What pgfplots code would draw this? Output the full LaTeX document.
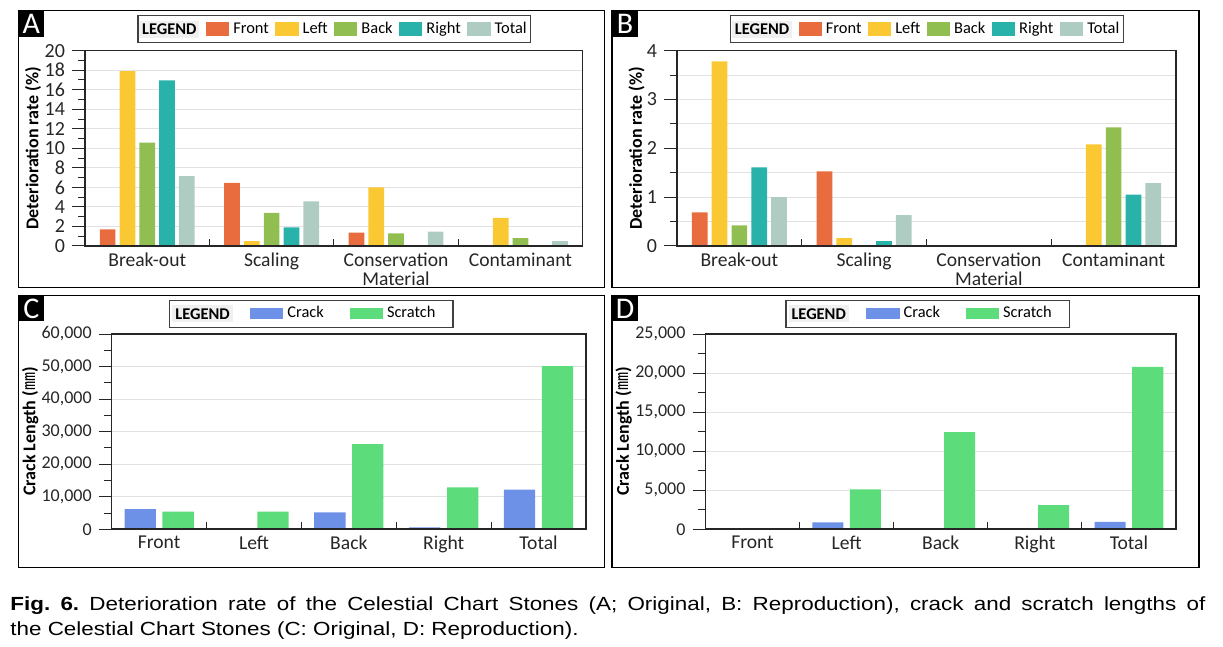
\documentclass[border=0pt]{standalone}
\usepackage{fontspec}
\setmainfont{Carlito}
\newfontfamily\capfont[FakeStretch=1.18]{Liberation Sans}
\newfontfamily\cjk{Noto Sans CJK KR}
\usepackage{pgfplots}
\pgfplotsset{compat=1.18}

\definecolor{cFront}{RGB}{233,108,62}
\definecolor{cLeft}{RGB}{250,200,50}
\definecolor{cBack}{RGB}{145,190,80}
\definecolor{cRight}{RGB}{40,178,170}
\definecolor{cTotal}{RGB}{175,204,194}
\definecolor{cCrack}{RGB}{110,145,232}
\definecolor{cScratch}{RGB}{92,220,122}
\definecolor{gridc}{RGB}{226,226,226}

\pgfplotsset{
  legimg/.style={legend image code/.code={\fill[#1] (0pt,-3.25pt) rectangle (11pt,3.25pt);}},
  legimgC/.style={legend image code/.code={\fill[#1] (0pt,-2.5pt) rectangle (16pt,2.5pt);}},
  panel/.style={
    scale only axis, anchor=north west, height=97.65pt,
    axis line style={draw=black!85, line width=0.6pt},
    ymin=0,
    ymajorgrids, grid style={draw=gridc, line width=0.5pt},
    ytick align=outside, ytick pos=left,
    xtick align=inside, xtick pos=bottom,
    major tick length=6.5pt, minor tick length=3.6pt,
    tick style={draw=black!85, line width=0.5pt},
    major x tick style={draw=none},
    minor y tick num=1,
    tick label style={text=black!85},
    yticklabel style={font=\fontsize{10}{10}\selectfont},
    xticklabel style={align=center, font=\fontsize{9.8}{9.3}\selectfont},
    /pgf/number format/assume math mode=true,
    /pgf/number format/1000 sep={,},
    ylabel style={font=\bfseries\fontsize{9}{10}\selectfont, anchor=center},
    legend columns=-1,
    legend style={draw=black!75, line width=0.6pt, fill=white, anchor=south,
      font=\fontsize{8.2}{9}\selectfont, inner xsep=0pt, inner ysep=1.6pt,
      nodes={inner ysep=1pt},
      /tikz/every even column/.append style={column sep=1.3pt}},
  },
  panelC/.style={panel,
    yticklabel style={font=\fontsize{9}{9}\selectfont},
    xmin=-0.5, xmax=4.5, xtick={0,1,2,3,4},
    xticklabels={Front,Left,Back,Right,Total},
    minor xtick={0.5,1.5,2.5,3.5},
    scaled y ticks=false,
    ylabel={Crack Length ({\cjk\mdseries ㎜})},
    legend style={inner ysep=1.6pt, /tikz/every even column/.append style={column sep=11pt}}},
}

\newcommand{\legendword}[2]{{\hspace*{#1}\setlength{\fboxsep}{1.5pt}\colorbox{gray!12}{\bfseries LEGEND}\hspace*{#2}}}

\begin{document}
\frenchspacing
\begin{tikzpicture}
\path[use as bounding box] (0,0) rectangle (611.5pt,-323.5pt);

% ---------- frames ----------
\draw[line width=0.75pt] (9.15pt,-5.35pt) rectangle (302.15pt,-143.65pt);
\draw[line width=0.75pt] (306pt,-5.35pt) rectangle (599.5pt,-143.65pt);
\draw[line width=0.75pt] (9.15pt,-147.75pt) rectangle (302.15pt,-283.75pt);
\draw[line width=0.75pt] (306pt,-147.75pt) rectangle (599.5pt,-283.75pt);
\foreach \x/\y/\l in {9.15/-5.35/A, 306/-5.35/B, 9.15/-147.75/C, 306/-147.75/D}{
  \fill[black] (\x pt,\y pt) rectangle ++(13pt,-13pt);
  \node[white, inner sep=0, font=\fontsize{15}{15}\selectfont] at (\x pt+6.5pt,\y pt-6.7pt) {\l};
}

% ---------- A ----------
\begin{axis}[panel, at={(42.5pt,-25.35pt)}, width=248.85pt,
  xmin=-0.5, xmax=3.5, xtick={0,1,2,3},
  xticklabels={Break-out,Scaling,Conservation\\Material,Contaminant},
  minor xtick={0.5,1.5,2.5},
  ymax=20, ytick={0,2,...,20},
  ylabel={Deterioration rate (\%)},
  ylabel style={at={(axis description cs:-0.1045,0.5)}},
  legend style={at={(axis description cs:0.501,1.037)}}]
\addplot[ybar, bar width=0.126, bar shift=-0.318, fill=cFront, draw=none, forget plot] coordinates {(0,1.7) (1,6.47) (2,1.36) (3,0)};
\addplot[ybar, bar width=0.126, bar shift=-0.159, fill=cLeft, draw=none, forget plot] coordinates {(0,17.9) (1,0.5) (2,6.0) (3,2.88)};
\addplot[ybar, bar width=0.126, bar shift=0, fill=cBack, draw=none, forget plot] coordinates {(0,10.58) (1,3.39) (2,1.29) (3,0.81)};
\addplot[ybar, bar width=0.126, bar shift=0.159, fill=cRight, draw=none, forget plot] coordinates {(0,16.95) (1,1.9) (2,0) (3,0)};
\addplot[ybar, bar width=0.126, bar shift=0.318, fill=cTotal, draw=none, forget plot] coordinates {(0,7.15) (1,4.58) (2,1.46) (3,0.5)};
\addlegendimage{empty legend}\addlegendentry{\legendword{-1.4pt}{0pt}}
\addlegendimage{legimg=cFront}\addlegendentry{Front}
\addlegendimage{legimg=cLeft}\addlegendentry{Left}
\addlegendimage{legimg=cBack}\addlegendentry{Back}
\addlegendimage{legimg=cRight}\addlegendentry{Right}
\addlegendimage{legimg=cTotal}\addlegendentry{Total}
\draw[black!85, line width=1pt] (rel axis cs:0,0) -- (rel axis cs:1,0);
\end{axis}

% ---------- B ----------
\begin{axis}[panel, at={(338.5pt,-25.35pt)}, width=249.5pt,
  xmin=-0.5, xmax=3.5, xtick={0,1,2,3},
  xticklabels={Break-out,Scaling,Conservation\\Material,Contaminant},
  minor xtick={0.5,1.5,2.5},
  ymax=4, ytick={0,1,2,3,4}, yminorgrids, minor grid style={draw=gridc, line width=0.5pt},
  ylabel={Deterioration rate (\%)},
  ylabel style={at={(axis description cs:-0.081,0.5)}},
  legend style={at={(axis description cs:0.501,1.037)}}]
\addplot[ybar, bar width=0.126, bar shift=-0.318, fill=cFront, draw=none, forget plot] coordinates {(0,0.69) (1,1.53) (2,0) (3,0)};
\addplot[ybar, bar width=0.126, bar shift=-0.159, fill=cLeft, draw=none, forget plot] coordinates {(0,3.78) (1,0.16) (2,0) (3,2.08)};
\addplot[ybar, bar width=0.126, bar shift=0, fill=cBack, draw=none, forget plot] coordinates {(0,0.42) (1,0) (2,0) (3,2.43)};
\addplot[ybar, bar width=0.126, bar shift=0.159, fill=cRight, draw=none, forget plot] coordinates {(0,1.61) (1,0.10) (2,0) (3,1.05)};
\addplot[ybar, bar width=0.126, bar shift=0.318, fill=cTotal, draw=none, forget plot] coordinates {(0,1.0) (1,0.63) (2,0) (3,1.29)};
\addlegendimage{empty legend}\addlegendentry{\legendword{-1.4pt}{0pt}}
\addlegendimage{legimg=cFront}\addlegendentry{Front}
\addlegendimage{legimg=cLeft}\addlegendentry{Left}
\addlegendimage{legimg=cBack}\addlegendentry{Back}
\addlegendimage{legimg=cRight}\addlegendentry{Right}
\addlegendimage{legimg=cTotal}\addlegendentry{Total}
\draw[black!85, line width=1pt] (rel axis cs:0,0) -- (rel axis cs:1,0);
\end{axis}

% ---------- C ----------
\begin{axis}[panelC, at={(55.85pt,-167pt)}, width=237.15pt,
  ymax=60000, ytick={0,10000,...,60000},
  ylabel style={at={(axis description cs:-0.172,0.5)}},
  legend style={at={(axis description cs:0.421,1.031)}}]
\addplot[ybar, bar width=0.33, bar shift=-0.2, fill=cCrack, draw=none, forget plot] coordinates {(0,6200) (1,0) (2,5200) (3,600) (4,12200)};
\addplot[ybar, bar width=0.33, bar shift=0.2, fill=cScratch, draw=none, forget plot] coordinates {(0,5400) (1,5400) (2,26200) (3,12900) (4,50100)};
\addlegendimage{empty legend}\addlegendentry{\legendword{-0.7pt}{-4.2pt}}
\addlegendimage{legimgC=cCrack}\addlegendentry{Crack}
\addlegendimage{legimgC=cScratch}\addlegendentry{Scratch\hspace*{6.8pt}}
\draw[black!85, line width=1pt] (rel axis cs:0,0) -- (rel axis cs:1,0);
\end{axis}

% ---------- D ----------
\begin{axis}[panelC, at={(352.75pt,-167pt)}, width=235.25pt,
  ymax=25000, ytick={0,5000,...,25000},
  ylabel style={at={(axis description cs:-0.174,0.5)}},
  legend style={at={(axis description cs:0.472,1.031)}}]
\addplot[ybar, bar width=0.33, bar shift=-0.2, fill=cCrack, draw=none, forget plot] coordinates {(0,0) (1,900) (2,0) (3,0) (4,950)};
\addplot[ybar, bar width=0.33, bar shift=0.2, fill=cScratch, draw=none, forget plot] coordinates {(0,0) (1,5100) (2,12450) (3,3100) (4,20800)};
\addlegendimage{empty legend}\addlegendentry{\legendword{-0.7pt}{-4.2pt}}
\addlegendimage{legimgC=cCrack}\addlegendentry{Crack}
\addlegendimage{legimgC=cScratch}\addlegendentry{Scratch\hspace*{6.8pt}}
\draw[black!85, line width=1pt] (rel axis cs:0,0) -- (rel axis cs:1,0);
\end{axis}

% ---------- caption ----------
\node[anchor=north west, inner sep=0, text width=597.5pt, align=justify,
      font=\capfont\fontsize{9.5}{12.9}\selectfont] at (5pt,-298pt)
  {\textbf{Fig. 6.} Deterioration rate of the Celestial Chart Stones (A; Original, B: Reproduction), crack and scratch lengths of\linebreak the Celestial Chart Stones (C: Original, D: Reproduction).};
\end{tikzpicture}
\end{document}
